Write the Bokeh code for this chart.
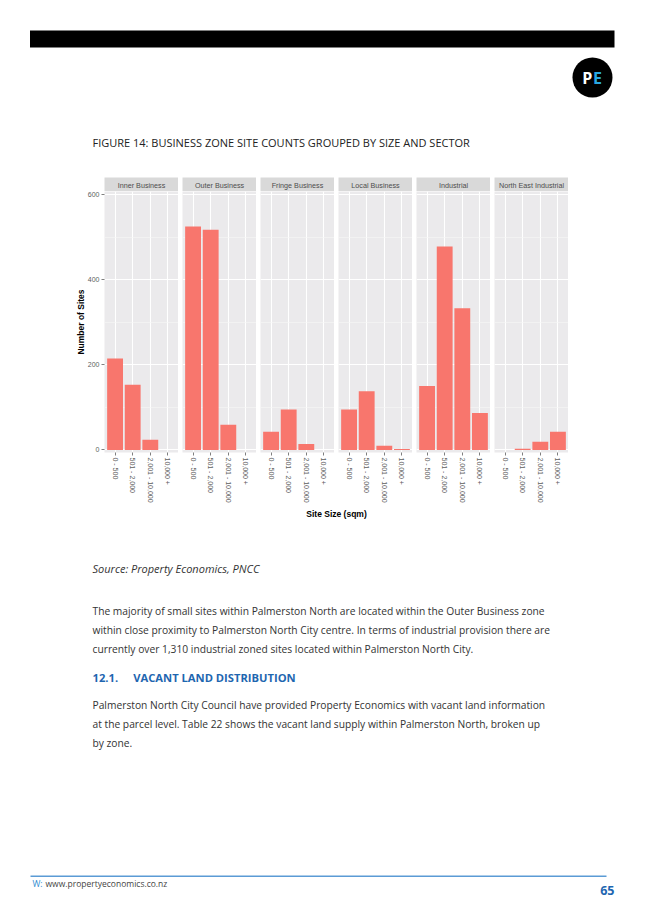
import math
from bokeh.plotting import figure
from bokeh.layouts import column, row
from bokeh.models import Range1d, FactorRange, FixedTicker, Label, BoxAnnotation
from bokeh.core.properties import value
from bokeh.embed import file_html
from bokeh.resources import INLINE

# ---------------- data ----------------
zones = ["Inner Business", "Outer Business", "Fringe Business",
         "Local Business", "Industrial", "North East Industrial"]
sizes = ["0 - 500", "501 - 2,000", "2,001 - 10,000", "10,000 +"]
inner_business = [215, 153, 24, 0]
outer_business = [525, 517, 59, 0]
fringe_business = [43, 95, 14, 0]
local_business = [95, 138, 10, 2]
industrial = [150, 478, 333, 87]
north_east_industrial = [0, 3, 19, 43]
y_ticks = [0, 200, 400, 600]
y_minor_ticks = [100, 300, 500]
series = [inner_business, outer_business, fringe_business,
          local_business, industrial, north_east_industrial]

# ---------------- layout constants ----------------
PAGE_W = 645
PAGE_H = 912
X0 = 0
HEADER_H = 177
STRIP_H = 14
FRAME_W = 74
FRAME_H = 261
LEFT_BORDER = 104
GAP = 4
BOTTOM_BORDER = 52
FOOTER_H = PAGE_H - HEADER_H - STRIP_H - FRAME_H - BOTTOM_BORDER

BAR = "#F8766D"
PANEL_BG = "#EBEAEC"
STRIP_BG = "#D9D9D9"
TXT = "#333333"
BLUE = "#1E66B0"
CHART_FONT = "Liberation Sans"
PAGE_FONT = "Open Sans"


def page_fig(top, h):
    p = figure(width=PAGE_W, height=h, x_range=Range1d(X0, X0 + PAGE_W),
               y_range=Range1d(top + h, top), output_backend="svg",
               toolbar_location=None, min_border=0,
               x_axis_location=None, y_axis_location=None)
    p.xgrid.visible = False
    p.ygrid.visible = False
    p.outline_line_color = None
    p.background_fill_color = "white"
    p.border_fill_color = "white"
    return p


def label(p, x, y, s, size, color=TXT, style="normal", font=PAGE_FONT,
          align="left"):
    p.add_layout(Label(x=x, y=y, text=s, text_font=font, text_font_size=size,
                       text_color=color, text_font_style=style,
                       text_align=align, text_baseline="middle"))


# ---------------- header ----------------
header = page_fig(0, HEADER_H)
header.add_layout(BoxAnnotation(left=29.5, right=614, top=30, bottom=47,
                                fill_color="black", fill_alpha=1, line_color=None))
header.circle(x=[592], y=[77], radius=20, fill_color="black", line_color=None)
label(header, 586.8, 77, "P", "16px", "white", "bold", "Open Sans", "center")
label(header, 597, 77, "E", "16px", "#29A8E0", "bold", "Open Sans", "center")
label(header, 92, 141.5, "FIGURE 14: BUSINESS ZONE SITE COUNTS GROUPED BY SIZE AND SECTOR",
      "11px", "#222222")

# ---------------- facet panels ----------------
y_range = Range1d(-6, 607)
strips = []
panels = []
for i, (zone, vals) in enumerate(zip(zones, series)):
    first = i == 0
    lb = LEFT_BORDER if first else GAP

    s = figure(frame_width=FRAME_W, frame_height=STRIP_H,
               x_range=Range1d(0, 1), y_range=Range1d(0, 1),
               output_backend="svg", toolbar_location=None,
               min_border=0, min_border_left=lb,
               x_axis_location=None, y_axis_location=None)
    s.xgrid.visible = False
    s.ygrid.visible = False
    s.outline_line_color = None
    s.background_fill_color = STRIP_BG
    s.border_fill_color = "white"
    s.text(x=[0.5], y=[0.45], text=[zone], text_align="center",
           text_baseline="middle", text_font=value(CHART_FONT),
           text_font_size="7.2px", text_color="#4D4D4D")
    strips.append(s)

    p = figure(x_range=FactorRange(factors=sizes, range_padding=0.05),
               y_range=y_range, frame_width=FRAME_W, frame_height=FRAME_H,
               output_backend="svg", toolbar_location=None,
               min_border=0, min_border_left=lb, min_border_bottom=BOTTOM_BORDER,
               y_axis_location="left" if first else None)
    p.vbar(x=sizes, top=vals, width=0.9, fill_color=BAR, line_color=None)
    p.background_fill_color = PANEL_BG
    p.border_fill_color = "white"
    p.outline_line_color = None

    p.xgrid.grid_line_color = "white"
    p.xgrid.grid_line_width = 1.1
    p.ygrid.ticker = FixedTicker(ticks=y_ticks, minor_ticks=y_minor_ticks)
    p.ygrid.grid_line_color = "white"
    p.ygrid.grid_line_width = 1.1
    p.ygrid.minor_grid_line_color = "#F6F6F6"
    p.ygrid.minor_grid_line_width = 0.6

    xa = p.xaxis[0]
    xa.major_label_orientation = -math.pi / 2
    xa.axis_line_color = None
    xa.major_tick_in = 0
    xa.major_tick_out = 3
    xa.major_tick_line_color = "#7F7F7F"
    xa.major_label_standoff = 2
    xa.major_label_text_font = CHART_FONT
    xa.major_label_text_font_size = "7px"
    xa.major_label_text_color = "#5E5E5E"

    if first:
        ya = p.yaxis[0]
        ya.ticker = FixedTicker(ticks=y_ticks, minor_ticks=[])
        ya.axis_line_color = None
        ya.major_tick_in = 0
        ya.major_tick_out = 3
        ya.minor_tick_out = 0
        ya.major_tick_line_color = "#7F7F7F"
        ya.major_label_standoff = 2
        ya.major_label_text_font = CHART_FONT
        ya.major_label_text_font_size = "7px"
        ya.major_label_text_color = "#5E5E5E"
        ya.axis_label = "Number of Sites"
        ya.axis_label_text_font = CHART_FONT
        ya.axis_label_text_font_size = "8.5px"
        ya.axis_label_text_font_style = "bold"
        ya.axis_label_text_color = "black"
        ya.axis_label_standoff = -1
    panels.append(p)

# ---------------- footer / body text ----------------
ftop = HEADER_H + STRIP_H + FRAME_H + BOTTOM_BORDER
footer = page_fig(ftop, FOOTER_H)
label(footer, 336, 512, "Site Size (sqm)", "8.5px", "black", "bold", CHART_FONT, "center")
label(footer, 92, 567, "Source: Property Economics, PNCC", "11px", TXT, "italic")
para1 = ["The majority of small sites within Palmerston North are located within the Outer Business zone",
         "within close proximity to Palmerston North City centre. In terms of industrial provision there are",
         "currently over 1,310 industrial zoned sites located within Palmerston North City."]
for k, line in enumerate(para1):
    label(footer, 92, 609 + 19 * k, line, "10.25px", TXT)
label(footer, 92, 676, "12.1.", "11.2px", BLUE, "bold")
label(footer, 132.7, 676, "VACANT LAND DISTRIBUTION", "11.2px", BLUE, "bold")
para2 = ["Palmerston North City Council have provided Property Economics with vacant land information",
         "at the parcel level. Table 22 shows the vacant land supply within Palmerston North, broken up",
         "by zone."]
for k, line in enumerate(para2):
    label(footer, 92, 703 + 19 * k, line, "10.25px", TXT)
footer.add_layout(BoxAnnotation(left=30, right=606, top=874, bottom=875.5,
                                fill_color="#5B9BD5", fill_alpha=1, line_color=None))
label(footer, 32, 882, "W:", "8.5px", "#2E8BD0")
label(footer, 45, 882, "www.propertyeconomics.co.nz", "8.5px", "#444444")
label(footer, 614, 888.5, "65", "12.5px", BLUE, "bold", PAGE_FONT, "right")

layout = column(header, row(*strips), row(*panels), footer)

with open("out.html", "w") as f:
    f.write(file_html(layout, INLINE, "Figure 14"))
